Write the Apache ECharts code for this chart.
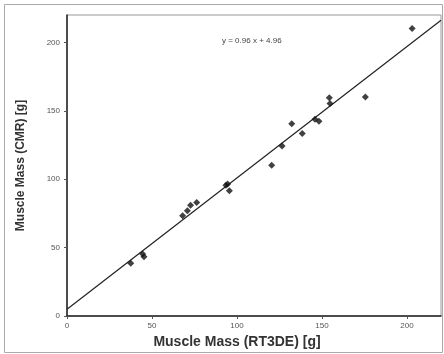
<!DOCTYPE html>
<html>
<head>
<meta charset="utf-8">
<script src="https://cdn.jsdelivr.net/npm/echarts@6/dist/echarts.min.js"></script>
<style>
  html, body { margin: 0; padding: 0; background: #fff; }
  #chart { width: 444px; height: 354px; }
</style>
</head>
<body>
<div id="chart"></div>
<script>
// measured points, RT3DE (x) vs CMR (y), grams
var rt3de = [37.5, 44.5, 45.3, 68, 70.8, 72.7, 76.3, 93.5, 94.5, 95.5,
             120.4, 126.5, 132.2, 138.4, 145.9, 148.2, 154.3, 154.7, 175.5, 203];
var cmr   = [38.5, 45.3, 43.3, 73.2, 76.9, 81, 83, 95.6, 96.5, 91.5,
             110.2, 124.3, 140.6, 133.4, 143.8, 142.3, 159.6, 155.3, 160.1, 210.2];

// regression line end points (y = 0.96 x + 4.96)
var fitX = [0, 220];
var fitY = [4.96, 216.2];

var xTicks = [0, 50, 100, 150, 200];
var yTicks = [0, 50, 100, 150, 200];
var equation = 'y = 0.96 x + 4.96';
var xTitle = 'Muscle Mass (RT3DE) [g]';
var yTitle = 'Muscle Mass (CMR) [g]';

var scatterData = rt3de.map(function (v, i) { return [v, cmr[i]]; });
var fitData = fitX.map(function (v, i) { return [v, fitY[i]]; });

var myChart = echarts.init(document.getElementById('chart'));
myChart.setOption({
    animation: false,
    textStyle: { fontFamily: 'Liberation Sans' },
    grid: {
        left: 67, top: 15, right: 3, bottom: 38,
        show: true,
        borderColor: '#999',
        borderWidth: 1
    },
    graphic: [
        {
            type: 'rect',
            shape: { x: 4.5, y: 4.5, width: 438, height: 348 },
            style: { fill: null, stroke: '#aaa', lineWidth: 1 },
            silent: true
        },
        {
            type: 'text',
            left: 222, top: 37,
            style: { text: equation, font: '8px Liberation Sans', fill: '#444' }
        },
        {
            // x axis title, sits a bit left of the plot centre in the original
            type: 'text',
            x: 237, y: 342,
            style: {
                text: xTitle, font: 'bold 14px Liberation Sans', fill: '#333',
                align: 'center', verticalAlign: 'middle'
            }
        }
    ],
    xAxis: {
        type: 'value',
        min: 0, max: 220, interval: 50,
        axisLine: { lineStyle: { color: '#222', width: 1.5 } },
        axisTick: { show: true, length: 3, lineStyle: { color: '#555' } },
        axisLabel: {
            fontSize: 8, color: '#555', margin: 6,
            showMaxLabel: false,
            formatter: function (v) { return xTicks.indexOf(v) >= 0 ? v : ''; }
        },
        splitLine: { show: false }
    },
    yAxis: {
        type: 'value',
        min: 0, max: 220, interval: 50,
        name: yTitle,
        nameLocation: 'middle',
        nameGap: 40,
        nameTextStyle: { fontSize: 12, fontWeight: 'bold', color: '#333' },
        axisLine: { show: true, lineStyle: { color: '#222', width: 1.5 } },
        axisTick: { show: true, length: 3, lineStyle: { color: '#555' } },
        axisLabel: {
            fontSize: 8, color: '#555', margin: 7,
            showMaxLabel: false,
            formatter: function (v) { return yTicks.indexOf(v) >= 0 ? v : ''; }
        },
        splitLine: { show: false }
    },
    series: [
        {
            type: 'line',
            data: fitData,
            symbol: 'none',
            lineStyle: { color: '#222', width: 1.2 },
            silent: true,
            z: 1
        },
        {
            type: 'scatter',
            data: scatterData,
            symbol: 'diamond',
            symbolSize: 7,
            itemStyle: { color: '#111' },
            z: 2
        }
    ]
});
</script>
</body>
</html>
